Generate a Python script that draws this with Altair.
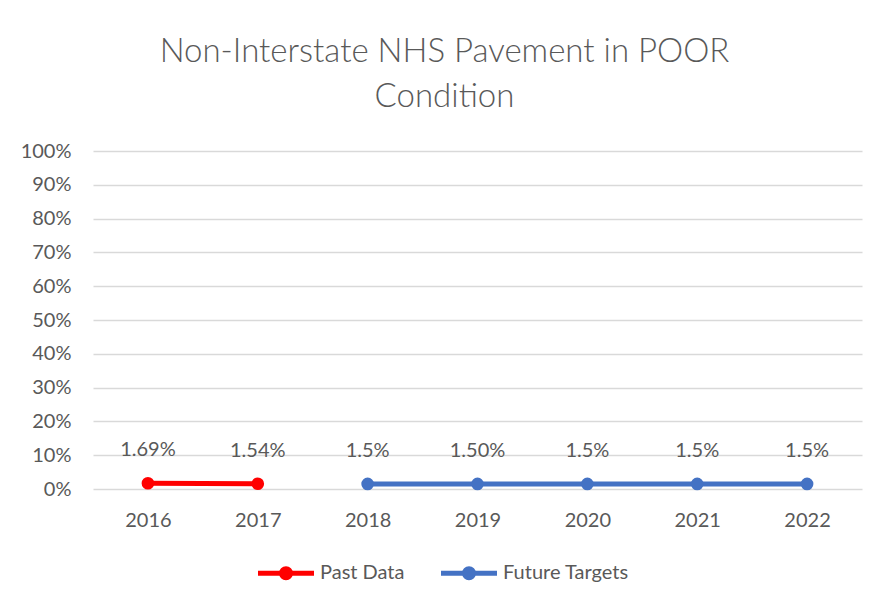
import altair as alt
import pandas as pd

years = ["2016", "2017", "2018", "2019", "2020", "2021", "2022"]
values = [1.69, 1.54, 1.5, 1.5, 1.5, 1.5, 1.5]
labels = ["1.69%", "1.54%", "1.5%", "1.50%", "1.5%", "1.5%", "1.5%"]
series = ["Past Data", "Past Data", "Future Targets", "Future Targets",
          "Future Targets", "Future Targets", "Future Targets"]
series_names = ["Past Data", "Future Targets"]
series_colors = ["#FF0000", "#4472C4"]

df = pd.DataFrame({
    "year": years,
    "value": [v / 100 for v in values],
    "label": labels,
    "series": series,
})

FONT = "Lato"
GRAY = "#595959"
FS = 20

SYM = ("M-4,0H4"
       "M-0.643,0A0.643,0.643 0 1,1 0.643,0A0.643,0.643 0 1,1 -0.643,0"
       "M-0.357,0A0.357,0.357 0 1,1 0.357,0A0.357,0.357 0 1,1 -0.357,0")

color = alt.Color(
    "series:N",
    scale=alt.Scale(domain=series_names, range=series_colors),
    legend=alt.Legend(
        title=None,
        orient="none",
        direction="horizontal",
        legendX=183,
        legendY=412,
        symbolType=SYM,
        symbolSize=196,
        symbolStrokeWidth=5,
        labelFont=FONT,
        labelFontSize=FS,
        labelColor=GRAY,
        labelOffset=24,
        columnPadding=26,
    ),
)

x = alt.X(
    "year:N",
    sort=years,
    title=None,
    scale=alt.Scale(paddingInner=0, paddingOuter=0),
    axis=alt.Axis(labelAngle=0, domain=False, ticks=False, labelPadding=21,
                  labelFont=FONT, labelFontSize=FS, labelColor=GRAY, grid=False),
)
y = alt.Y(
    "value:Q",
    title=None,
    scale=alt.Scale(domain=[0, 1]),
    axis=alt.Axis(values=[i / 10 for i in range(11)], format=".0%", domain=False,
                  ticks=False, labelPadding=22, labelFont=FONT, labelFontSize=FS,
                  labelColor=GRAY, gridColor="#D9D9D9", gridWidth=1.5),
)

base = alt.Chart(df)
lines = base.mark_line(strokeWidth=5).encode(x=x, y=y, color=color, detail="series:N")
points = base.mark_circle(size=160, opacity=1).encode(
    x=x, y=y,
    fill=alt.Fill("series:N", scale=alt.Scale(domain=series_names, range=series_colors), legend=None))
text = base.mark_text(dy=-33, font=FONT, fontSize=FS, color=GRAY).encode(
    x=x, y=y, text="label:N")

chart = alt.layer(lines, points, text).properties(
    width=769,
    height=338,
    background="white",
    autosize=alt.AutoSizeParams(type="none"),
    padding={"left": 85, "top": 143, "right": 10, "bottom": 110},
    title=alt.TitleParams(
        text=["Non-Interstate NHS Pavement in POOR", "Condition"],
        font=FONT, fontSize=33, fontWeight=300, color=GRAY,
        lineHeight=45, anchor="middle", dx=-33, offset=27,
    ),
).configure_view(stroke=None)

chart.save("out.html", embed_options={"renderer": "svg", "actions": False})
